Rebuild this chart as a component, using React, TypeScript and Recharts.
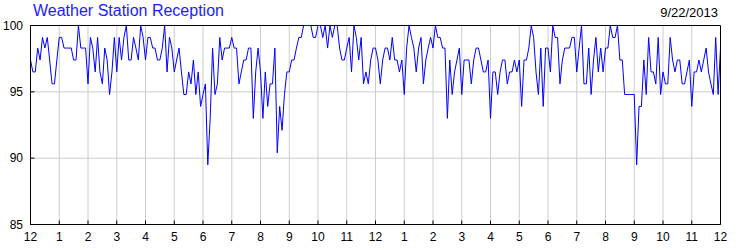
import React from "react";
import { LineChart, Line, XAxis, YAxis, CartesianGrid, ReferenceLine } from "recharts";

// hour labels along the bottom, one per 12 samples (5 minute readings)
const hourLabels = [
  "12", "1", "2", "3", "4", "5", "6", "7", "8", "9", "10", "11",
  "12", "1", "2", "3", "4", "5", "6", "7", "8", "9", "10", "11", "12",
];
const yTicks = [85, 90, 95, 100];
const samplesPerHour = 12;

// reception %, one reading every 5 minutes (rows = hours)
const reception = [
  97.4, 96.5, 96.5, 98.3, 97.4, 99.1, 98.3, 99.1, 97.4, 95.6, 95.6, 97.4,
  99.1, 99.1, 98.3, 98.3, 98.3, 98.3, 97.4, 97.4, 100, 98.3, 98.3, 98.3,
  95.6, 99.1, 98.3, 96.5, 99.1, 96.5, 95.6, 98.3, 97.4, 94.8, 96.5, 99.1,
  96.5, 99.1, 97.4, 99.1, 100, 97.4, 97.4, 99.1, 98.3, 97.4, 100, 99.1,
  97.4, 99.1, 99.1, 98.3, 98.3, 97.4, 97.4, 98.3, 100, 96.5, 99.1, 98.3,
  96.5, 97.4, 98.3, 96.5, 94.8, 94.8, 96.5, 95.6, 97.4, 94.8, 96.5, 93.9,
  94.8, 95.6, 89.5, 93.0, 98.3, 94.8, 95.6, 99.1, 97.4, 98.3, 98.3, 98.3,
  99.1, 98.3, 98.3, 95.6, 96.5, 97.4, 97.4, 98.3, 98.3, 93.0, 96.5, 98.3,
  96.5, 93.0, 96.5, 93.9, 95.6, 95.6, 98.3, 90.4, 93.9, 92.1, 94.8, 96.5,
  96.5, 97.4, 97.4, 98.3, 99.1, 99.1, 100, 100, 100, 100, 99.1, 99.1,
  100, 100, 99.1, 100, 98.3, 100, 99.1, 100, 100, 98.3, 97.4, 97.4,
  98.3, 99.1, 96.5, 100, 99.1, 97.4, 99.1, 95.6, 96.5, 95.6, 97.4, 98.3,
  98.3, 97.4, 95.6, 97.4, 98.3, 98.3, 97.4, 99.1, 97.4, 97.4, 96.5, 97.4,
  94.8, 98.3, 100, 99.1, 98.3, 96.5, 98.3, 99.1, 95.6, 97.4, 98.3, 99.1,
  98.3, 100, 99.1, 99.1, 98.3, 98.3, 93.0, 97.4, 94.8, 96.5, 97.4, 98.3,
  94.8, 97.4, 97.4, 97.4, 95.6, 97.4, 98.3, 98.3, 97.4, 96.5, 96.5, 97.4,
  93.0, 96.5, 96.5, 94.8, 96.5, 97.4, 97.4, 95.6, 96.5, 96.5, 97.4, 96.5,
  97.4, 93.9, 97.4, 97.4, 98.3, 100, 99.1, 96.5, 94.8, 98.3, 93.9, 98.3,
  98.3, 96.5, 100, 99.1, 99.1, 95.6, 97.4, 98.3, 98.3, 98.3, 99.1, 99.1,
  96.5, 98.3, 100, 95.6, 95.6, 98.3, 94.8, 97.4, 99.1, 96.5, 98.3, 96.5,
  98.3, 98.3, 100, 99.1, 99.1, 100, 97.4, 97.4, 94.8, 94.8, 94.8, 94.8,
  94.8, 89.5, 93.9, 93.9, 97.4, 94.8, 99.1, 96.5, 96.5, 95.6, 99.1, 94.8,
  96.5, 95.6, 95.6, 99.1, 97.4, 96.5, 97.4, 97.4, 95.6, 95.6, 96.5, 97.4,
  93.9, 96.5, 96.5, 97.4, 96.5, 97.4, 98.3, 96.5, 95.6, 94.8, 99.1, 94.8,
  98.3,
];

const data = reception.map((v, i) => ({ t: i, reception: v }));
const xTicks = hourLabels.map((_, i) => i * samplesPerHour);

const FONT = '"Liberation Sans", Arial, sans-serif';
const tickStyle = { fill: "#000", fontSize: 12, fontFamily: FONT };

export default function App() {
  return (
    <div
      style={{
        position: "absolute",
        left: 0,
        top: 0,
        width: 750,
        height: 250,
        background: "#fff",
        fontFamily: FONT,
      }}
    >
      <div
        style={{
          position: "absolute",
          left: 33,
          top: 3,
          fontSize: 16,
          lineHeight: 1,
          color: "#1c1cff",
          whiteSpace: "nowrap",
        }}
      >
        Weather Station Reception
      </div>
      <div
        style={{
          position: "absolute",
          right: 32,
          top: 6,
          fontSize: 13,
          lineHeight: 1,
          color: "#000",
          whiteSpace: "nowrap",
        }}
      >
        9/22/2013
      </div>
      <LineChart
        width={750}
        height={250}
        data={data}
        margin={{ top: 25.5, right: 0, bottom: 0, left: 0 }}
      >
        <CartesianGrid yAxisId="left" stroke="#cccccc" />
        <XAxis
          type="number"
          dataKey="t"
          domain={[0, 288]}
          ticks={xTicks}
          interval={0}
          tickFormatter={(v: number) => hourLabels[v / samplesPerHour]}
          height={25.5}
          tickSize={-4}
          tickMargin={12}
          tick={tickStyle}
          axisLine={{ stroke: "#000" }}
          tickLine={{ stroke: "#000" }}
        />
        <YAxis
          yAxisId="left"
          domain={[85, 100]}
          ticks={yTicks}
          interval={0}
          width={30.5}
          tickSize={-4}
          tickMargin={11.5}
          tick={tickStyle}
          axisLine={{ stroke: "#000" }}
          tickLine={{ stroke: "#000" }}
        />
        <YAxis
          yAxisId="right"
          orientation="right"
          domain={[85, 100]}
          ticks={yTicks}
          interval={0}
          width={29.5}
          tickSize={-4}
          tickMargin={10.5}
          tick={tickStyle}
          axisLine={{ stroke: "#000" }}
          tickLine={{ stroke: "#000" }}
        />
        <ReferenceLine yAxisId="left" y={100} stroke="#000" />
        <Line
          yAxisId="left"
          type="linear"
          dataKey="reception"
          stroke="#0000ff"
          strokeWidth={1}
          dot={false}
          isAnimationActive={false}
        />
      </LineChart>
    </div>
  );
}
